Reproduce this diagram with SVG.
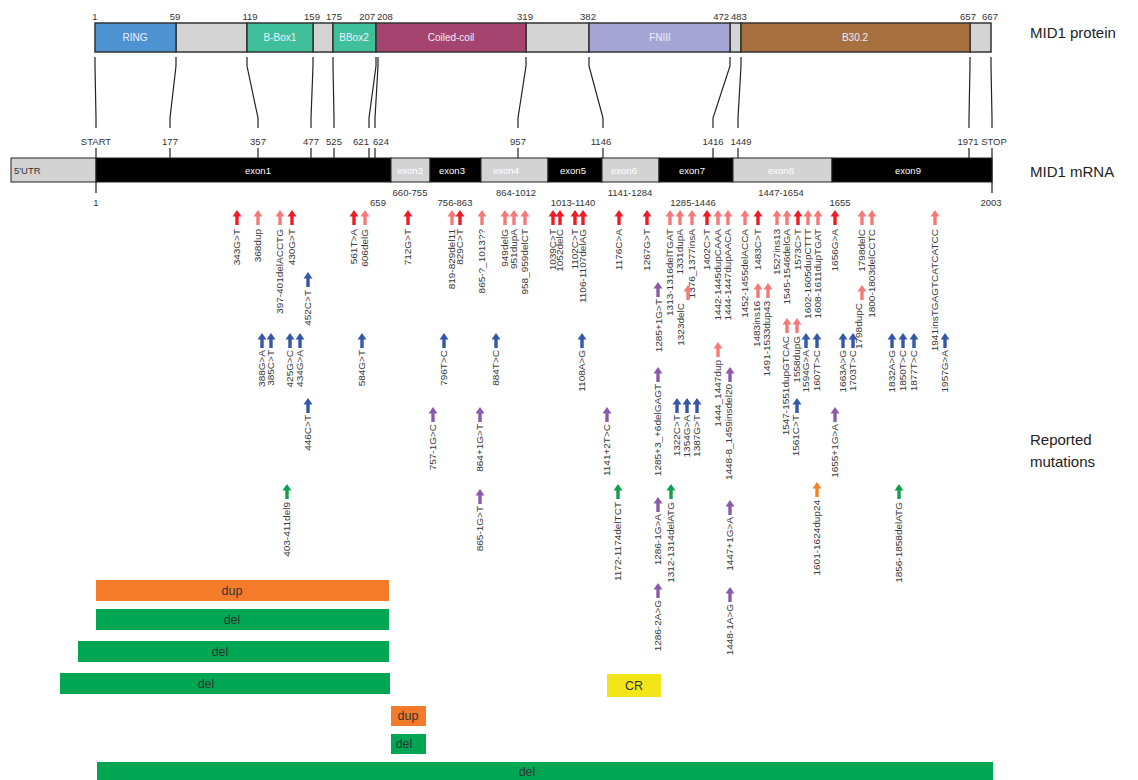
<svg xmlns="http://www.w3.org/2000/svg" xmlns:xlink="http://www.w3.org/1999/xlink" width="1138" height="780" viewBox="0 0 1138 780">
<style>
text{font-family:"Liberation Sans",Arial,sans-serif}
.n{font-size:9.5px;fill:#333;text-anchor:middle}
.ne{font-size:9.5px;fill:#333;text-anchor:end}
.ns{font-size:9.5px;fill:#333;text-anchor:start}
.t{font-size:15px;fill:#222}
.d{font-size:10px;fill:#eef;text-anchor:middle}
.e{font-size:9.5px;fill:#fff;text-anchor:middle}
.m{font-size:10px;fill:#3a3a3a;text-anchor:end}
.bl{font-size:12.5px;fill:#333;text-anchor:middle}
.dom{stroke:#333;stroke-width:1.5}
.gap{fill:#d4d4d4}
.ex{stroke:#222;stroke-width:1}
.k{fill:#000}
.gr{fill:#d3d3d3}
.r{fill:#ed1c24}.p{fill:#f47a7a}.b{fill:#3557a7}.v{fill:#8a5aab}.g{fill:#10a04c}.o{fill:#f58220}
.ln{fill:none;stroke:#222;stroke-width:1.2}
</style>
<defs>
<path id="ua" d="M0,0 L4.5,6.5 L1.7,6.5 L1.7,15 L-1.7,15 L-1.7,6.5 L-4.5,6.5 Z"/>
</defs>

<g id="protein">
<rect class="dom gap" x="176" y="23" width="71" height="29"/>
<rect class="dom gap" x="313" y="23" width="20" height="29"/>
<rect class="dom gap" x="526" y="23" width="63" height="29"/>
<rect class="dom gap" x="730" y="23" width="11" height="29"/>
<rect class="dom gap" x="970" y="23" width="21" height="29"/>
<g id="ring"><rect class="dom" x="95" y="23" width="81" height="29" fill="#4d93d2"/><text class="d" x="135" y="41">RING</text></g>
<g id="bbox1"><rect class="dom" x="247" y="23" width="66" height="29" fill="#3fc09b"/><text class="d" x="280" y="41">B-Box1</text></g>
<g id="bbox2"><rect class="dom" x="333" y="23" width="43" height="29" fill="#3fc09b"/><text class="d" x="354" y="41">BBox2</text></g>
<g id="coil"><rect class="dom" x="376" y="23" width="150" height="29" fill="#a4446f"/><text class="d" x="451" y="41">Coiled-coil</text></g>
<g id="fn3"><rect class="dom" x="589" y="23" width="141" height="29" fill="#a5a5d5"/><text class="d" x="660" y="41">FNIII</text></g>
<g id="b302"><rect class="dom" x="741" y="23" width="229" height="29" fill="#a6713e"/><text class="d" x="855" y="41">B30.2</text></g>
<text class="n" x="95" y="20">1</text>
<text class="n" x="175" y="20">59</text>
<text class="n" x="250" y="20">119</text>
<text class="n" x="312" y="20">159</text>
<text class="n" x="334" y="20">175</text>
<text class="ne" x="375" y="20">207</text>
<text class="ns" x="377" y="20">208</text>
<text class="n" x="525" y="20">319</text>
<text class="n" x="588" y="20">382</text>
<text class="ne" x="729" y="20">472</text>
<text class="ns" x="731" y="20">483</text>
<text class="n" x="968" y="20">657</text>
<text class="n" x="990" y="20">667</text>
<text class="t" x="1030" y="38">MID1 protein</text>
</g>

<g id="connectors">
<polyline class="ln" points="95,57 95,66 96,118 96,128"/>
<polyline class="ln" points="176,57 176,66 170,118 170,128"/>
<polyline class="ln" points="247,57 247,66 258,118 258,128"/>
<polyline class="ln" points="313,57 313,66 311,118 311,128"/>
<polyline class="ln" points="333,57 333,66 334,118 334,128"/>
<polyline class="ln" points="376,57 376,66 369,118 369,128"/>
<polyline class="ln" points="378,57 378,66 375,118 375,128"/>
<polyline class="ln" points="526,57 526,66 518,118 518,128"/>
<polyline class="ln" points="589,57 589,66 603,118 603,128"/>
<polyline class="ln" points="730,57 730,66 713,118 713,128"/>
<polyline class="ln" points="741,57 741,66 738,118 738,128"/>
<polyline class="ln" points="970,57 970,66 969,118 969,128"/>
<polyline class="ln" points="991,57 991,66 992,118 992,128"/>
<path class="ln" d="M96,148V193 M170,148V158 M258,148V158 M311,148V158 M334,148V158 M369,148V158 M375,148V158 M518,148V158 M603,148V158 M713,148V158 M738,148V158 M969,148V158 M992,148V193"/>
</g>

<g id="mrna">
<g id="utr"><rect class="ex gr" x="11" y="158" width="85" height="24"/><text class="ns" x="14" y="174">5'UTR</text></g>
<g id="exon1"><rect class="ex k" x="96" y="158" width="295" height="24"/><text class="e" x="258" y="174">exon1</text></g>
<g id="exon2"><rect class="ex gr" x="391" y="158" width="39" height="24"/><text class="e" x="410" y="174">exon2</text></g>
<g id="exon3"><rect class="ex k" x="430" y="158" width="51" height="24"/><text class="e" x="452" y="174">exon3</text></g>
<g id="exon4"><rect class="ex gr" x="481" y="158" width="67" height="24"/><text class="e" x="506" y="174">exon4</text></g>
<g id="exon5"><rect class="ex k" x="548" y="158" width="54" height="24"/><text class="e" x="573" y="174">exon5</text></g>
<g id="exon6"><rect class="ex gr" x="602" y="158" width="57" height="24"/><text class="e" x="624" y="174">exon6</text></g>
<g id="exon7"><rect class="ex k" x="659" y="158" width="74" height="24"/><text class="e" x="692" y="174">exon7</text></g>
<g id="exon8"><rect class="ex gr" x="733" y="158" width="99" height="24"/><text class="e" x="781" y="174">exon8</text></g>
<g id="exon9"><rect class="ex k" x="832" y="158" width="160" height="24"/><text class="e" x="908" y="174">exon9</text></g>
<text class="n" x="96" y="145">START</text>
<text class="n" x="170" y="145">177</text>
<text class="n" x="258" y="145">357</text>
<text class="n" x="311" y="145">477</text>
<text class="n" x="334" y="145">525</text>
<text class="n" x="361" y="145">621</text>
<text class="n" x="381" y="145">624</text>
<text class="n" x="518" y="145">957</text>
<text class="n" x="601" y="145">1146</text>
<text class="n" x="713" y="145">1416</text>
<text class="n" x="741" y="145">1449</text>
<text class="n" x="968" y="145">1971</text>
<text class="n" x="994" y="145">STOP</text>
<text class="n" x="96" y="206">1</text>
<text class="n" x="378" y="206">659</text>
<text class="n" x="410" y="196">660-755</text>
<text class="n" x="455" y="206">756-863</text>
<text class="n" x="516" y="196">864-1012</text>
<text class="n" x="573" y="206">1013-1140</text>
<text class="n" x="630" y="196">1141-1284</text>
<text class="n" x="693" y="206">1285-1446</text>
<text class="n" x="781" y="196">1447-1654</text>
<text class="n" x="840" y="206">1655</text>
<text class="n" x="991" y="206">2003</text>
<text class="t" x="1030" y="177">MID1 mRNA</text>
</g>

<g id="mutations">
<g id="m1"><use xlink:href="#ua" x="237" y="210" class="r"/><text class="m" transform="translate(240,229) rotate(-90) scale(1,0.85)">343G&gt;T</text></g>
<g id="m2"><use xlink:href="#ua" x="258" y="210" class="p"/><text class="m" transform="translate(261,229) rotate(-90) scale(1,0.85)">368dup</text></g>
<g id="m3"><use xlink:href="#ua" x="280" y="210" class="p"/><text class="m" transform="translate(283,229) rotate(-90) scale(1,0.85)">397-401delACCTG</text></g>
<g id="m4"><use xlink:href="#ua" x="292" y="210" class="r"/><text class="m" transform="translate(295,229) rotate(-90) scale(1,0.85)">430G&gt;T</text></g>
<g id="m5"><use xlink:href="#ua" x="354" y="210" class="r"/><text class="m" transform="translate(357,229) rotate(-90) scale(1,0.85)">561T&gt;A</text></g>
<g id="m6"><use xlink:href="#ua" x="365" y="210" class="p"/><text class="m" transform="translate(368,229) rotate(-90) scale(1,0.85)">606delG</text></g>
<g id="m7"><use xlink:href="#ua" x="408" y="210" class="r"/><text class="m" transform="translate(411,229) rotate(-90) scale(1,0.85)">712G&gt;T</text></g>
<g id="m8"><use xlink:href="#ua" x="452" y="210" class="p"/><text class="m" transform="translate(455,229) rotate(-90) scale(1,0.85)">819-829del11</text></g>
<g id="m9"><use xlink:href="#ua" x="460" y="210" class="r"/><text class="m" transform="translate(463,229) rotate(-90) scale(1,0.85)">829C&gt;T</text></g>
<g id="m10"><use xlink:href="#ua" x="482" y="210" class="p"/><text class="m" transform="translate(485,229) rotate(-90) scale(1,0.85)">865-?_1013??</text></g>
<g id="m11"><use xlink:href="#ua" x="505" y="210" class="p"/><text class="m" transform="translate(508,229) rotate(-90) scale(1,0.85)">949delG</text></g>
<g id="m12"><use xlink:href="#ua" x="514" y="210" class="p"/><text class="m" transform="translate(517,229) rotate(-90) scale(1,0.85)">951dupA</text></g>
<g id="m13"><use xlink:href="#ua" x="525" y="210" class="p"/><text class="m" transform="translate(528,229) rotate(-90) scale(1,0.85)">958_959delCT</text></g>
<g id="m14"><use xlink:href="#ua" x="553" y="210" class="r"/><text class="m" transform="translate(556,229) rotate(-90) scale(1,0.85)">1039C&gt;T</text></g>
<g id="m15"><use xlink:href="#ua" x="560" y="210" class="r"/><text class="m" transform="translate(563,229) rotate(-90) scale(1,0.85)">1052delC</text></g>
<g id="m16"><use xlink:href="#ua" x="575" y="210" class="r"/><text class="m" transform="translate(578,229) rotate(-90) scale(1,0.85)">1102C&gt;T</text></g>
<g id="m17"><use xlink:href="#ua" x="583" y="210" class="r"/><text class="m" transform="translate(586,229) rotate(-90) scale(1,0.85)">1106-1107delAG</text></g>
<g id="m18"><use xlink:href="#ua" x="619" y="210" class="r"/><text class="m" transform="translate(622,229) rotate(-90) scale(1,0.85)">1176C&gt;A</text></g>
<g id="m19"><use xlink:href="#ua" x="647" y="210" class="r"/><text class="m" transform="translate(650,229) rotate(-90) scale(1,0.85)">1267G&gt;T</text></g>
<g id="m20"><use xlink:href="#ua" x="670" y="210" class="p"/><text class="m" transform="translate(673,229) rotate(-90) scale(1,0.85)">1313-1316delTGAT</text></g>
<g id="m21"><use xlink:href="#ua" x="680" y="210" class="p"/><text class="m" transform="translate(683,229) rotate(-90) scale(1,0.85)">1331dupA</text></g>
<g id="m22"><use xlink:href="#ua" x="692" y="210" class="p"/><text class="m" transform="translate(695,229) rotate(-90) scale(1,0.85)">1376_1377insA</text></g>
<g id="m23"><use xlink:href="#ua" x="707" y="210" class="r"/><text class="m" transform="translate(710,229) rotate(-90) scale(1,0.85)">1402C&gt;T</text></g>
<g id="m24"><use xlink:href="#ua" x="718" y="210" class="p"/><text class="m" transform="translate(721,229) rotate(-90) scale(1,0.85)">1442-1445dupCAAA</text></g>
<g id="m25"><use xlink:href="#ua" x="728" y="210" class="p"/><text class="m" transform="translate(731,229) rotate(-90) scale(1,0.85)">1444-1447dupAACA</text></g>
<g id="m26"><use xlink:href="#ua" x="745" y="210" class="p"/><text class="m" transform="translate(748,229) rotate(-90) scale(1,0.85)">1452-1455delACCA</text></g>
<g id="m27"><use xlink:href="#ua" x="758" y="210" class="r"/><text class="m" transform="translate(761,229) rotate(-90) scale(1,0.85)">1483C&gt;T</text></g>
<g id="m28"><use xlink:href="#ua" x="777" y="210" class="p"/><text class="m" transform="translate(780,229) rotate(-90) scale(1,0.85)">1527ins13</text></g>
<g id="m29"><use xlink:href="#ua" x="787" y="210" class="p"/><text class="m" transform="translate(790,229) rotate(-90) scale(1,0.85)">1545-1546delGA</text></g>
<g id="m30"><use xlink:href="#ua" x="798" y="210" class="r"/><text class="m" transform="translate(801,229) rotate(-90) scale(1,0.85)">1573C&gt;T</text></g>
<g id="m31"><use xlink:href="#ua" x="808" y="210" class="p"/><text class="m" transform="translate(811,229) rotate(-90) scale(1,0.85)">1602-1605dupCTTT</text></g>
<g id="m32"><use xlink:href="#ua" x="818" y="210" class="p"/><text class="m" transform="translate(821,229) rotate(-90) scale(1,0.85)">1608-1611dupTGAT</text></g>
<g id="m33"><use xlink:href="#ua" x="835" y="210" class="r"/><text class="m" transform="translate(838,229) rotate(-90) scale(1,0.85)">1656G&gt;A</text></g>
<g id="m34"><use xlink:href="#ua" x="862" y="210" class="p"/><text class="m" transform="translate(865,229) rotate(-90) scale(1,0.85)">1798delC</text></g>
<g id="m35"><use xlink:href="#ua" x="872" y="210" class="p"/><text class="m" transform="translate(875,229) rotate(-90) scale(1,0.85)">1800-1803delCCTC</text></g>
<g id="m36"><use xlink:href="#ua" x="935" y="210" class="p"/><text class="m" transform="translate(938,229) rotate(-90) scale(1,0.85)">1941insTGAGTCATCATCC</text></g>

<g id="m37"><use xlink:href="#ua" x="688" y="285" class="p"/><text class="m" transform="translate(684,303) rotate(-90) scale(1,0.85)">1323delC</text></g>
<g id="m38"><use xlink:href="#ua" x="758" y="283" class="p"/><text class="m" transform="translate(760,301) rotate(-90) scale(1,0.85)">1483ins16</text></g>
<g id="m39"><use xlink:href="#ua" x="768" y="283" class="p"/><text class="m" transform="translate(770,301) rotate(-90) scale(1,0.85)">1491-1533dup43</text></g>
<g id="m40"><use xlink:href="#ua" x="862" y="285" class="p"/><text class="m" transform="translate(862,303) rotate(-90) scale(1,0.85)">1798dupC</text></g>
<g id="m41"><use xlink:href="#ua" x="718" y="342" class="p"/><text class="m" transform="translate(721,360) rotate(-90) scale(1,0.85)">1444_1447dup</text></g>
<g id="m42"><use xlink:href="#ua" x="787" y="318" class="p"/><text class="m" transform="translate(789,336) rotate(-90) scale(1,0.85)">1547-1551dupGTCAC</text></g>
<g id="m43"><use xlink:href="#ua" x="797" y="318" class="p"/><text class="m" transform="translate(800,336) rotate(-90) scale(1,0.85)">1558dupG</text></g>

<g id="m44"><use xlink:href="#ua" x="308" y="272" class="b"/><text class="m" transform="translate(311,290) rotate(-90) scale(1,0.85)">452C&gt;T</text></g>
<g id="m45"><use xlink:href="#ua" x="262" y="333" class="b"/><text class="m" transform="translate(265,350) rotate(-90) scale(1,0.85)">388G&gt;A</text></g>
<g id="m46"><use xlink:href="#ua" x="271" y="333" class="b"/><text class="m" transform="translate(274,350) rotate(-90) scale(1,0.85)">385C&gt;T</text></g>
<g id="m47"><use xlink:href="#ua" x="290" y="333" class="b"/><text class="m" transform="translate(293,350) rotate(-90) scale(1,0.85)">425G&gt;C</text></g>
<g id="m48"><use xlink:href="#ua" x="300" y="333" class="b"/><text class="m" transform="translate(303,350) rotate(-90) scale(1,0.85)">434G&gt;A</text></g>
<g id="m49"><use xlink:href="#ua" x="362" y="333" class="b"/><text class="m" transform="translate(365,350) rotate(-90) scale(1,0.85)">584G&gt;T</text></g>
<g id="m50"><use xlink:href="#ua" x="444" y="333" class="b"/><text class="m" transform="translate(447,350) rotate(-90) scale(1,0.85)">796T&gt;C</text></g>
<g id="m51"><use xlink:href="#ua" x="496" y="333" class="b"/><text class="m" transform="translate(499,350) rotate(-90) scale(1,0.85)">884T&gt;C</text></g>
<g id="m52"><use xlink:href="#ua" x="582" y="333" class="b"/><text class="m" transform="translate(585,350) rotate(-90) scale(1,0.85)">1108A&gt;G</text></g>
<g id="m53"><use xlink:href="#ua" x="806" y="333" class="b"/><text class="m" transform="translate(809,350) rotate(-90) scale(1,0.85)">1594G&gt;A</text></g>
<g id="m54"><use xlink:href="#ua" x="817" y="333" class="b"/><text class="m" transform="translate(820,350) rotate(-90) scale(1,0.85)">1607T&gt;C</text></g>
<g id="m55"><use xlink:href="#ua" x="843" y="333" class="b"/><text class="m" transform="translate(846,350) rotate(-90) scale(1,0.85)">1663A&gt;G</text></g>
<g id="m56"><use xlink:href="#ua" x="853" y="333" class="b"/><text class="m" transform="translate(856,350) rotate(-90) scale(1,0.85)">1703T&gt;C</text></g>
<g id="m57"><use xlink:href="#ua" x="892" y="333" class="b"/><text class="m" transform="translate(895,350) rotate(-90) scale(1,0.85)">1832A&gt;G</text></g>
<g id="m58"><use xlink:href="#ua" x="903" y="333" class="b"/><text class="m" transform="translate(906,350) rotate(-90) scale(1,0.85)">1850T&gt;C</text></g>
<g id="m59"><use xlink:href="#ua" x="914" y="333" class="b"/><text class="m" transform="translate(917,350) rotate(-90) scale(1,0.85)">1877T&gt;C</text></g>
<g id="m60"><use xlink:href="#ua" x="945" y="333" class="b"/><text class="m" transform="translate(948,350) rotate(-90) scale(1,0.85)">1957G&gt;A</text></g>
<g id="m61"><use xlink:href="#ua" x="308" y="398" class="b"/><text class="m" transform="translate(311,415) rotate(-90) scale(1,0.85)">446C&gt;T</text></g>
<g id="m62"><use xlink:href="#ua" x="677" y="398" class="b"/><text class="m" transform="translate(680,415) rotate(-90) scale(1,0.85)">1322C&gt;T</text></g>
<g id="m63"><use xlink:href="#ua" x="687" y="398" class="b"/><text class="m" transform="translate(690,415) rotate(-90) scale(1,0.85)">1354G&gt;A</text></g>
<g id="m64"><use xlink:href="#ua" x="697" y="398" class="b"/><text class="m" transform="translate(700,415) rotate(-90) scale(1,0.85)">1387G&gt;T</text></g>
<g id="m65"><use xlink:href="#ua" x="797" y="398" class="b"/><text class="m" transform="translate(799,415) rotate(-90) scale(1,0.85)">1561C&gt;T</text></g>

<g id="m66"><use xlink:href="#ua" x="433" y="407" class="v"/><text class="m" transform="translate(436,424) rotate(-90) scale(1,0.85)">757-1G&gt;C</text></g>
<g id="m67"><use xlink:href="#ua" x="480" y="407" class="v"/><text class="m" transform="translate(483,424) rotate(-90) scale(1,0.85)">864+1G&gt;T</text></g>
<g id="m68"><use xlink:href="#ua" x="607" y="407" class="v"/><text class="m" transform="translate(610,424) rotate(-90) scale(1,0.85)">1141+2T&gt;C</text></g>
<g id="m69"><use xlink:href="#ua" x="658" y="282" class="v"/><text class="m" transform="translate(662,299) rotate(-90) scale(1,0.85)">1285+1G&gt;T</text></g>
<g id="m70"><use xlink:href="#ua" x="658" y="367" class="v"/><text class="m" transform="translate(661,384) rotate(-90) scale(1,0.85)">1285+3_+6delGAGT</text></g>
<g id="m71"><use xlink:href="#ua" x="730" y="367" class="v"/><text class="m" transform="translate(732,384) rotate(-90) scale(1,0.85)">1448-8_1459insdel20</text></g>
<g id="m72"><use xlink:href="#ua" x="835" y="407" class="v"/><text class="m" transform="translate(838,424) rotate(-90) scale(1,0.85)">1655+1G&gt;A</text></g>
<g id="m73"><use xlink:href="#ua" x="480" y="489" class="v"/><text class="m" transform="translate(483,506) rotate(-90) scale(1,0.85)">865-1G&gt;T</text></g>
<g id="m74"><use xlink:href="#ua" x="658" y="497" class="v"/><text class="m" transform="translate(661,514) rotate(-90) scale(1,0.85)">1286-1G&gt;A</text></g>
<g id="m75"><use xlink:href="#ua" x="658" y="583" class="v"/><text class="m" transform="translate(661,600) rotate(-90) scale(1,0.85)">1286-2A&gt;G</text></g>
<g id="m76"><use xlink:href="#ua" x="730" y="500" class="v"/><text class="m" transform="translate(733,517) rotate(-90) scale(1,0.85)">1447+1G&gt;A</text></g>
<g id="m77"><use xlink:href="#ua" x="730" y="587" class="v"/><text class="m" transform="translate(733,604) rotate(-90) scale(1,0.85)">1448-1A&gt;G</text></g>

<g id="m78"><use xlink:href="#ua" x="287" y="484" class="g"/><text class="m" transform="translate(290,502) rotate(-90) scale(1,0.85)">403-411del9</text></g>
<g id="m79"><use xlink:href="#ua" x="618" y="484" class="g"/><text class="m" transform="translate(621,502) rotate(-90) scale(1,0.85)">1172-1174delTCT</text></g>
<g id="m80"><use xlink:href="#ua" x="671" y="484" class="g"/><text class="m" transform="translate(674,502) rotate(-90) scale(1,0.85)">1312-1314delATG</text></g>
<g id="m81"><use xlink:href="#ua" x="899" y="484" class="g"/><text class="m" transform="translate(902,502) rotate(-90) scale(1,0.85)">1856-1858delATG</text></g>
<g id="m82"><use xlink:href="#ua" x="817" y="482" class="o"/><text class="m" transform="translate(820,500) rotate(-90) scale(1,0.85)">1601-1624dup24</text></g>
</g>

<g id="legend">
<text class="t" x="1030" y="445">Reported</text>
<text class="t" x="1030" y="467">mutations</text>
</g>

<g id="bars">
<g id="bar1"><rect x="96" y="580" width="293" height="21" fill="#f47b2a"/><text class="bl" x="232" y="595">dup</text></g>
<g id="bar2"><rect x="96" y="609" width="293" height="21" fill="#00a651"/><text class="bl" x="232" y="624">del</text></g>
<g id="bar3"><rect x="78" y="641" width="311" height="21" fill="#00a651"/><text class="bl" x="220" y="656">del</text></g>
<g id="bar4"><rect x="60" y="673" width="330" height="21" fill="#00a651"/><text class="bl" x="206" y="688">del</text></g>
<g id="bar5"><rect x="391" y="706" width="35" height="20" fill="#f47b2a"/><text class="bl" x="408" y="720">dup</text></g>
<g id="bar6"><rect x="391" y="734" width="35" height="20" fill="#00a651"/><text class="bl" x="404" y="748">del</text></g>
<g id="bar7"><rect x="97" y="762" width="896" height="22" fill="#00a651"/><text class="bl" x="527" y="776">del</text></g>
<g id="bar8"><rect x="607" y="674" width="54" height="23" fill="#f2e61a"/><text class="bl" x="634" y="690">CR</text></g>
</g>
</svg>
